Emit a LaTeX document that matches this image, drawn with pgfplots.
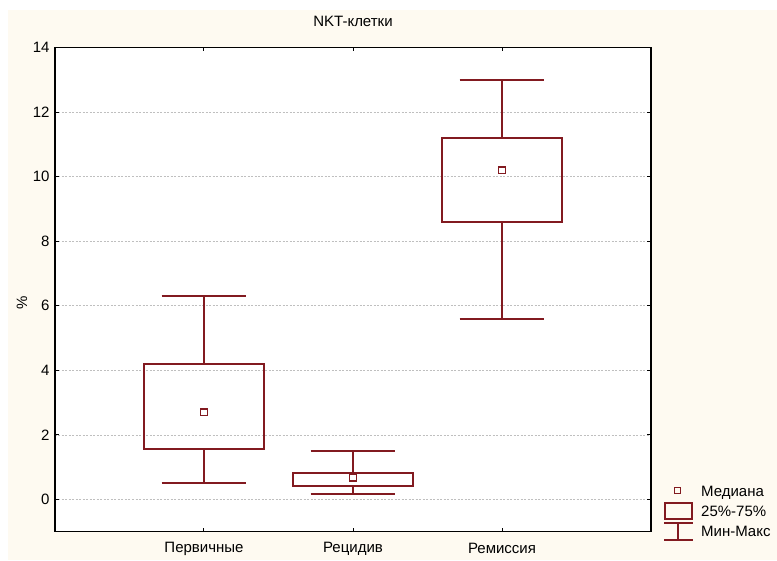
\documentclass[border=0pt]{standalone}
\usepackage{fontspec}
\setmainfont{Liberation Sans}
\usepackage{pgfplots}
\pgfplotsset{compat=1.18}
\usepgfplotslibrary{statistics}
\definecolor{boxred}{RGB}{130,26,32}
\definecolor{cream}{RGB}{254,250,241}
\begin{document}
\begin{tikzpicture}[x=1pt,y=1pt]
\fill[white] (0,0) rectangle (777,560);
\fill[cream] (8,0) rectangle (777,550);
\path[use as bounding box] (0,0) rectangle (777,560);
\begin{axis}[
  at={(55pt,28.3pt)}, anchor=south west, scale only axis,
  width=596pt, height=484.2pt,
  xmin=0, xmax=4, ymin=-1, ymax=14,
  xtick={1,2,3}, xticklabels={Первичные,Рецидив,Ремиссия},
  ytick={0,2,4,6,8,10,12,14},
  axis background/.style={fill=white},
  axis line style={line width=1.3pt},
  major tick length=4pt,
  tick style={black, line width=1pt},
  ymajorgrids, grid style={dash pattern=on 2pt off 1.5pt, black!25, line width=0.6pt},
  tick label style={font=\fontsize{15}{17}\selectfont},
  xticklabel style={anchor=center, yshift=-17pt},
  yticklabel style={xshift=-2pt},
  /pgf/number format/assume math mode=true,
  title={NKT-клетки},
  title style={font=\fontsize{15}{17}\selectfont, at={(0.5,1)}, anchor=center, yshift=20pt},
  ylabel={\%},
  ylabel style={font=\fontsize{15}{17}\selectfont, at={(axis description cs:-0.0554,0.472)}, anchor=center},
  boxplot/draw direction=y,
  boxplot/box extend=0.8,
  boxplot/whisker extend=0.57,
  boxplot/draw/median/.code={},
  boxplot/every box/.style={draw=boxred, line width=2pt, solid},
  boxplot/every whisker/.style={draw=boxred, line width=2pt, solid},
  legend style={at={(1.0201,0.1026)}, anchor=north west, draw=none, fill=none,
    inner xsep=0pt, inner ysep=0pt, row sep=0pt, column sep=7pt,
    nodes={inner sep=0pt}, cells={anchor=west}, font=\fontsize{15}{17}\selectfont},
]
\addplot+[forget plot, boxred, solid, line width=2pt, mark=none,
  boxplot prepared={lower whisker=0.5, lower quartile=1.57, median=2.7,
  upper quartile=4.2, upper whisker=6.3, draw position=1}] coordinates {};
\addplot+[forget plot, boxred, solid, line width=2pt, mark=none,
  boxplot prepared={lower whisker=0.18, lower quartile=0.43, median=0.67,
  upper quartile=0.82, upper whisker=1.5, draw position=2}] coordinates {};
\addplot+[forget plot, boxred, solid, line width=2pt, mark=none,
  boxplot prepared={lower whisker=5.6, lower quartile=8.6, median=10.2,
  upper quartile=11.2, upper whisker=13.0, draw position=3}] coordinates {};
\addplot[forget plot, only marks, mark=square, mark size=3.2pt, draw=boxred,
  mark options={draw=boxred, line width=1.2pt, solid}]
  coordinates {(1,2.7) (2,0.67) (3,10.2)};
\addlegendimage{legend image code/.code={
  \path[draw=none, fill=none] (0pt,-10pt) rectangle (29pt,10pt);
  \draw[boxred, line width=1.2pt] (10pt,-1pt) rectangle (16pt,5pt);}}
\addlegendentry{Медиана}
\addlegendimage{legend image code/.code={
  \path[draw=none, fill=none] (0pt,-10pt) rectangle (29pt,10pt);
  \draw[boxred, line width=2pt] (1pt,-7pt) rectangle (28pt,9pt);}}
\addlegendentry{25\%-75\%}
\addlegendimage{legend image code/.code={
  \path[draw=none, fill=none] (0pt,-10pt) rectangle (29pt,10pt);
  \draw[boxred, line width=2pt] (0pt,9pt) -- (29pt,9pt) (14pt,9pt) -- (14pt,-8pt) (0pt,-8pt) -- (29pt,-8pt);}}
\addlegendentry{Мин-Макс}
\end{axis}
\end{tikzpicture}
\end{document}
